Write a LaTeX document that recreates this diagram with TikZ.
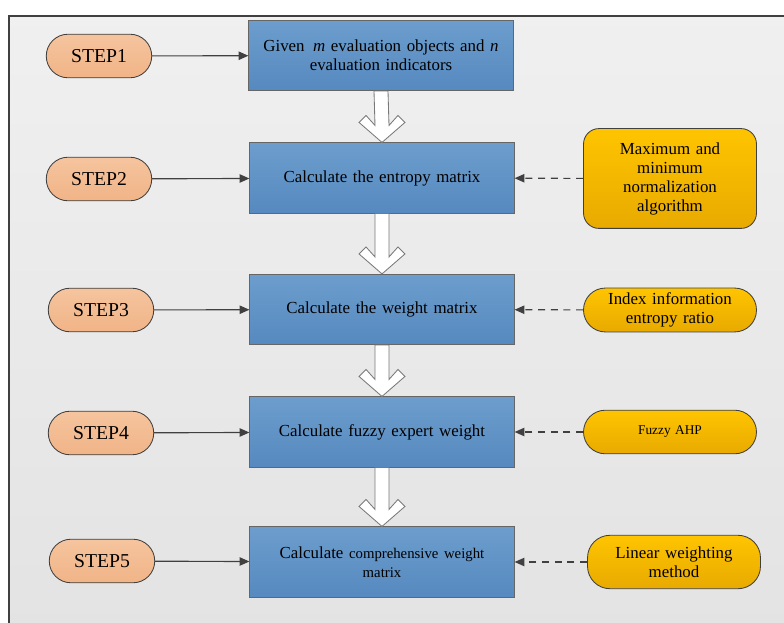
\documentclass[tikz,border=0pt]{standalone}
\usepackage{fontspec}
\setmainfont{Liberation Serif}
\usetikzlibrary{arrows.meta,positioning,calc}
\definecolor{stepfill}{RGB}{241,180,135}
\definecolor{stepfilltop}{RGB}{245,196,158}
\definecolor{boxblue}{RGB}{86,137,191}
\definecolor{boxbluetop}{RGB}{108,157,205}
\definecolor{methgold}{RGB}{232,170,0}
\definecolor{methgoldtop}{RGB}{255,196,0}
\definecolor{linegray}{RGB}{64,64,64}

\begin{document}
\begin{tikzpicture}[x=0.025cm,y=-0.025cm,every node/.style={font=\fontsize{12}{13.5}\selectfont},
    stepnode/.style={draw=linegray,semithick,top color=stepfilltop,bottom color=stepfill,rounded corners=15.5pt,
      minimum width=75pt,minimum height=31pt,font=\fontsize{14}{16}\selectfont},
    taskbox/.style={draw=linegray!80,semithick,top color=boxbluetop,bottom color=boxblue,
      minimum width=188pt,minimum height=50pt,align=center,text width=178pt},
    methbox/.style={draw=linegray,semithick,top color=methgoldtop,bottom color=methgold,
      minimum width=123pt,align=center,text width=112pt},
    solidarrow/.style={linegray,line width=0.8pt,-{Triangle[length=7pt,width=6pt]}},
    dasharrow/.style={linegray,line width=0.8pt,dash pattern=on 5pt off 4pt,-{Triangle[length=7pt,width=6pt]}},
    hollow/.style={draw=linegray!70,semithick,fill=white,line join=miter}]
  \useasboundingbox (0,0) rectangle (784,623);
  % frame
  \draw[linegray,line width=0.9pt,top color=black!6,bottom color=black!11] (9,16) rectangle (800,640);
  % steps
  \node[stepnode] (step1) at (99,56) {STEP1};
  \node[stepnode] (step2) at (99,179) {STEP2};
  \node[stepnode] (step3) at (101,310) {STEP3};
  \node[stepnode] (step4) at (101,433) {STEP4};
  \node[stepnode] (step5) at (102,561) {STEP5};
  % main boxes
  \node[taskbox] (box1) at (381,55.5) {Given \,\textit{m} evaluation objects and \textit{n}\\evaluation indicators};
  \node[taskbox] (box2) at (382,178) {Calculate the entropy matrix};
  \node[taskbox] (box3) at (382,309.5) {Calculate the weight matrix};
  \node[taskbox] (box4) at (382,432) {Calculate fuzzy expert weight};
  \node[taskbox] (box5) at (382,562) {Calculate {\fontsize{10.5}{13}\selectfont comprehensive weight}\\{\fontsize{10.5}{13}\selectfont matrix}};
  % methods
  \node[methbox,rounded corners=11pt,minimum height=71pt] (meth1) at (670,178.5) {Maximum and\\minimum\\normalization\\algorithm};
  \node[methbox,rounded corners=15.5pt,minimum height=31pt] (meth2) at (670,310) {Index information\\entropy ratio};
  \node[methbox,rounded corners=15.5pt,minimum height=31pt,font=\fontsize{9.5}{11}\selectfont] (meth3) at (670,432) {Fuzzy AHP};
  \node[methbox,rounded corners=16pt,minimum height=38pt] (meth4) at (674,562) {Linear weighting\\method};
  % connectors
  \foreach \i in {1,...,5}{
    \draw[solidarrow] (step\i) -- (box\i);
  }
  \foreach \i/\j in {1/2,2/3,3/4,4/5}{
    \draw[dasharrow] (meth\i) -- (box\j);
  }
  \foreach \a/\b in {box1/box2,box2/box3,box3/box4,box4/box5}{
    \draw[hollow] ($(\a.south)+(-7,0)$) -- ($(\b.north)+(-7,-17)$) -- ($(\b.north)+(-16,-27)$)
      -- ($(\b.north)+(-23,-20)$) -- (\b.north) -- ($(\b.north)+(23,-20)$) -- ($(\b.north)+(16,-27)$)
      -- ($(\b.north)+(7,-17)$) -- ($(\a.south)+(7,0)$) -- cycle;
  }
\end{tikzpicture}
\end{document}
